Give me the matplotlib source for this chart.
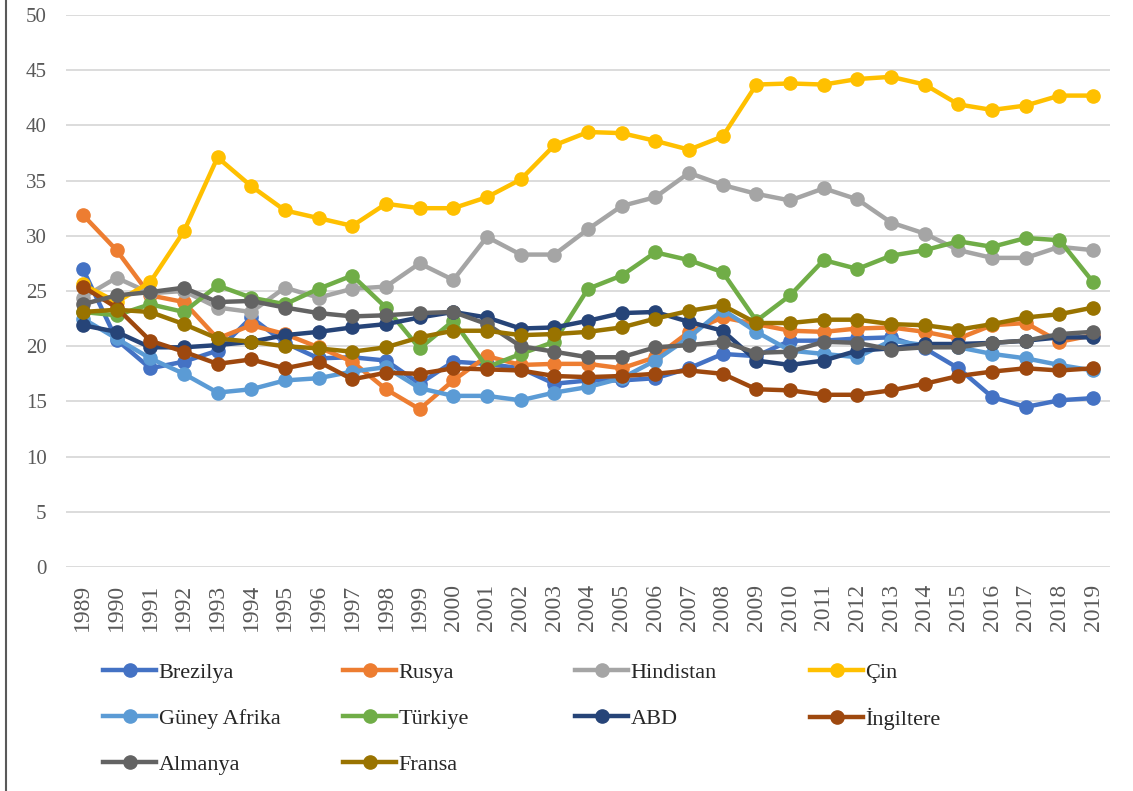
import matplotlib
matplotlib.use("Agg")
import matplotlib.pyplot as plt
from matplotlib.lines import Line2D
import numpy as np

years = list(range(1989, 2020))

brezilya = [27.0, 20.6, 18.0, 18.6, 19.6, 22.6, 20.3, 18.9, 19.0, 18.7, 16.6,
            18.6, 18.4, 18.0, 16.6, 16.9, 16.9, 17.1, 18.0, 19.3, 19.1,
            20.5, 20.5, 20.7, 20.8, 19.8, 18.0, 15.4, 14.5, 15.1, 15.3]
rusya = [31.9, 28.7, 24.6, 24.0, 20.7, 21.9, 21.1, 19.9, 18.6, 16.1, 14.3,
         16.9, 19.1, 18.3, 18.4, 18.4, 18.0, 19.0, 21.3, 22.6, 22.0,
         21.4, 21.3, 21.6, 21.7, 21.3, 20.7, 21.9, 22.1, 20.4, 21.0]
hindistan = [24.4, 26.2, 24.8, 25.0, 23.5, 23.1, 25.3, 24.4, 25.2, 25.4, 27.5,
             26.0, 29.9, 28.3, 28.3, 30.6, 32.7, 33.5, 35.7, 34.6, 33.8,
             33.2, 34.3, 33.3, 31.2, 30.2, 28.7, 28.0, 28.0, 29.0, 28.7]
cin = [25.6, 24.0, 25.8, 30.4, 37.1, 34.5, 32.3, 31.6, 30.9, 32.9, 32.5,
       32.5, 33.5, 35.1, 38.2, 39.4, 39.3, 38.6, 37.8, 39.0, 43.7,
       43.8, 43.7, 44.2, 44.4, 43.7, 41.9, 41.4, 41.8, 42.7, 42.7]
guney_afrika = [22.5, 20.7, 18.9, 17.5, 15.8, 16.1, 16.9, 17.1, 17.7, 18.1, 16.2,
                15.5, 15.5, 15.1, 15.8, 16.3, 17.1, 18.7, 20.8, 23.3, 21.3,
                19.6, 19.3, 19.0, 20.5, 20.1, 19.9, 19.3, 18.9, 18.3, 17.8]
turkiye = [23.1, 22.8, 23.8, 23.1, 25.5, 24.4, 23.8, 25.2, 26.4, 23.5, 19.8,
           22.3, 18.1, 19.3, 20.4, 25.2, 26.4, 28.5, 27.8, 26.7, 22.3,
           24.6, 27.8, 27.0, 28.2, 28.7, 29.5, 29.0, 29.8, 29.6, 25.8]
abd = [21.9, 21.3, 19.9, 19.9, 20.1, 20.4, 21.0, 21.3, 21.7, 22.0, 22.6,
       23.1, 22.6, 21.6, 21.7, 22.3, 23.0, 23.1, 22.2, 21.4, 18.7,
       18.3, 18.7, 19.6, 19.8, 20.2, 20.2, 20.3, 20.5, 20.8, 20.8]
ingiltere = [25.4, 23.5, 20.5, 19.5, 18.4, 18.8, 18.0, 18.6, 17.0, 17.6, 17.5,
             18.0, 17.9, 17.8, 17.3, 17.2, 17.3, 17.5, 17.8, 17.5, 16.1,
             16.0, 15.6, 15.6, 16.0, 16.6, 17.3, 17.7, 18.0, 17.8, 18.0]
almanya = [23.8, 24.6, 24.9, 25.3, 24.0, 24.1, 23.5, 23.0, 22.7, 22.8, 23.0,
           23.1, 22.0, 20.0, 19.5, 19.0, 19.0, 19.9, 20.1, 20.4, 19.4,
           19.5, 20.4, 20.3, 19.7, 19.9, 19.9, 20.3, 20.5, 21.1, 21.3]
fransa = [23.1, 23.3, 23.1, 22.0, 20.7, 20.4, 20.0, 19.8, 19.5, 19.9, 20.8,
          21.4, 21.4, 21.0, 21.1, 21.3, 21.7, 22.5, 23.2, 23.7, 22.1,
          22.1, 22.4, 22.4, 22.0, 21.9, 21.5, 22.0, 22.6, 22.9, 23.5]

names = ["Brezilya", "Rusya", "Hindistan", "Çin", "Güney Afrika", "Türkiye",
         "ABD", "İngiltere", "Almanya", "Fransa"]
series = [brezilya, rusya, hindistan, cin, guney_afrika, turkiye,
          abd, ingiltere, almanya, fransa]
colors = ["#4472C4", "#ED7D31", "#A5A5A5", "#FFC000", "#5B9BD5", "#70AD47",
          "#264478", "#9E480E", "#636363", "#997300"]

plt.rcParams['font.family'] = ['Liberation Serif', 'DejaVu Serif']

fig = plt.figure(figsize=(11.33, 7.91), dpi=100)
ax = fig.add_axes([66/1133, 1 - 567/791, (1110-66)/1133, (567-15)/791])

x = np.arange(len(years))
lines = {}
for name, vals, c in zip(names, series, colors):
    ln, = ax.plot(x, vals, color=c, lw=3.2, marker='o', ms=9.5,
                  solid_joinstyle='round', label=name)
    lines[name] = ln

ax.set_xlim(-0.5, len(years) - 0.5)
ax.set_ylim(0, 50)
ax.set_yticks(range(0, 51, 5))
ax.set_xticks(x)
ax.set_xticklabels([str(y) for y in years], rotation=90)
ax.tick_params(axis='both', length=0, labelcolor='#595959')
ax.tick_params(axis='y', pad=14, labelsize=15)
ax.tick_params(axis='x', pad=12, labelsize=17)
ax.yaxis.grid(True, color='#d9d9d9', lw=1.3)
ax.set_axisbelow(True)
for s in ax.spines.values():
    s.set_visible(False)

# legend in four columns, placed like the excel one
cols = [["Brezilya", "Güney Afrika", "Almanya"],
        ["Rusya", "Türkiye", "Fransa"],
        ["Hindistan", "ABD"],
        ["Çin", "İngiltere"]]
col_x = [103, 343, 575, 810]
for cx, col in zip(col_x, cols):
    leg = fig.legend([lines[n] for n in col], col, loc='upper left',
                     bbox_to_anchor=(cx/1133, 1 - 662/791), frameon=False,
                     fontsize=16, handlelength=2.4, handletextpad=0.1,
                     labelspacing=1.15, borderpad=0, borderaxespad=0)
    for t in leg.get_texts():
        t.set_color('#262626')

# left border of the chart frame
fig.add_artist(Line2D([6/1133, 6/1133], [0, 1], color='#595959', lw=1.5,
                      transform=fig.transFigure))

fig.savefig("out.png", dpi=100)
